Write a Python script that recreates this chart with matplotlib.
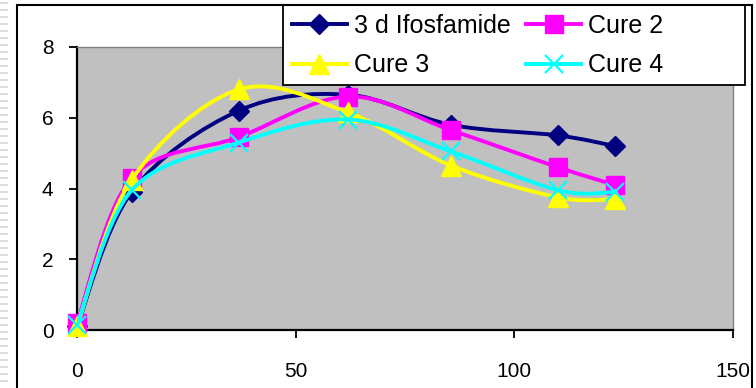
import numpy as np
import matplotlib
matplotlib.use("Agg")
import matplotlib.pyplot as plt
from matplotlib.path import Path
from matplotlib.patches import PathPatch, Rectangle
from matplotlib.lines import Line2D

plt.rcParams['font.family'] = ['Liberation Sans', 'DejaVu Sans']

# sampling times and the four series
time = [0, 12.5, 37, 62, 85.5, 110, 123]
ifosfamide = [0.1, 3.9, 6.2, 6.65, 5.8, 5.5, 5.2]
cure2 = [0.2, 4.3, 5.45, 6.6, 5.65, 4.6, 4.1]
cure3 = [0.1, 4.25, 6.8, 6.15, 4.65, 3.75, 3.7]
cure4 = [0.15, 3.95, 5.3, 5.95, 5.05, 3.95, 3.9]

series_names = ['3 d Ifosfamide', 'Cure 2', 'Cure 3', 'Cure 4']
x_ticks = [0, 50, 100, 150]
y_ticks = [0, 2, 4, 6, 8]


def smooth_path(xs, ys):
    """Catmull-Rom style bezier path through the points (like a smoothed line)."""
    pts = np.column_stack([xs, ys]).astype(float)
    padded = np.vstack([pts[0], pts, pts[-1]])
    verts = [pts[0]]
    codes = [Path.MOVETO]
    for i in range(len(pts) - 1):
        p0, p1, p2, p3 = padded[i], padded[i + 1], padded[i + 2], padded[i + 3]
        verts += [p1 + (p2 - p0) / 6, p2 - (p3 - p1) / 6, p2]
        codes += [Path.CURVE4] * 3
    return Path(verts, codes)


W, H = 756, 388
fig = plt.figure(figsize=(W / 100, H / 100), dpi=100)
ax = fig.add_axes([77 / W, (H - 330) / H, (733 - 77) / W, (330 - 47) / H])
ax.set_facecolor('#C0C0C0')

styles = [
    dict(color='#000080', marker='D', ms=10, mew=1),
    dict(color='#FF00FF', marker='s', ms=13, mew=1),
    dict(color='#FFFF00', marker='^', ms=14, mew=1),
    dict(color='#00FFFF', marker='x', ms=13, mew=1.6),
]

handles = []
for k, (vals, st) in enumerate(zip([ifosfamide, cure2, cure3, cure4], styles)):
    z = 3 + k
    ax.add_patch(PathPatch(smooth_path(time, vals), fill=False,
                           edgecolor=st['color'], lw=2.8, zorder=z,
                           capstyle='round', joinstyle='round'))
    ax.plot(time, vals, linestyle='none', marker=st['marker'], ms=st['ms'],
            color=st['color'], mec=st['color'], mew=st['mew'],
            zorder=z + 0.5, clip_on=False)
    handles.append(Line2D([], [], color=st['color'], lw=2.8,
                          marker=st['marker'], ms=st['ms'], mew=st['mew'],
                          mec=st['color']))

ax.set_xlim(0, 150)
ax.set_ylim(0, 8)
ax.set_xticks(x_ticks)
ax.set_yticks(y_ticks)
ax.tick_params(axis='both', direction='out', length=6, width=1.3,
               labelsize=15, color='black')
ax.tick_params(axis='x', pad=17)
ax.tick_params(axis='y', pad=11)

for side in ['left', 'bottom']:
    ax.spines[side].set_color('black')
    ax.spines[side].set_linewidth(1.6)
for side in ['top', 'right']:
    ax.spines[side].set_color('#808080')
    ax.spines[side].set_linewidth(1.0)

# legend box is wider than its entries, so draw the frame separately
fig.add_artist(Rectangle((283 / W, 1 - 85 / H), (745 - 283) / W, 80 / H,
                         transform=fig.transFigure, facecolor='white',
                         edgecolor='black', lw=1.3, zorder=4))

# row-major order: Ifosfamide, Cure 2 / Cure 3, Cure 4
order = [0, 2, 1, 3]
leg = fig.legend([handles[i] for i in order], [series_names[i] for i in order],
                 loc='upper left', bbox_to_anchor=(283 / W, 1 - 5 / H),
                 ncol=2, numpoints=1, fontsize=18, frameon=False,
                 borderaxespad=0, handlelength=2.2, handletextpad=0.3,
                 columnspacing=0.6, labelspacing=0.62, borderpad=0.35)
leg.set_zorder(5)

# chart border
fig.add_artist(Rectangle((17 / W, -0.05), (752 - 17) / W, 1.05 - 5 / H,
                         transform=fig.transFigure, fill=False,
                         edgecolor='black', lw=1.5, zorder=10))

# faint striped strip on the far left
for yp in np.arange(3, H, 7):
    fig.add_artist(Line2D([0, 7 / W], [1 - yp / H, 1 - yp / H],
                          transform=fig.transFigure, color='#DCDCDC', lw=1.4))

fig.savefig('out.png', dpi=100)
